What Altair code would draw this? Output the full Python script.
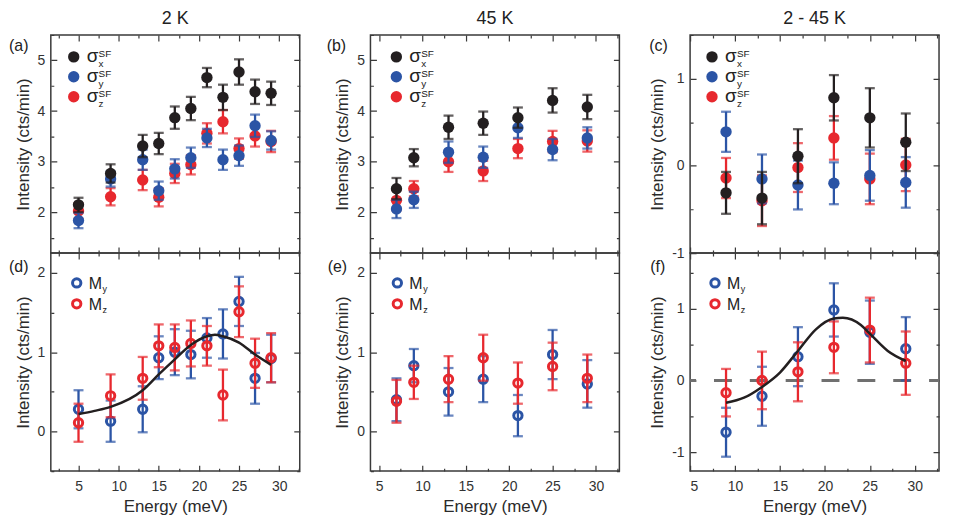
import altair as alt
import pandas as pd

FONT = "Liberation Sans"
BLACK = "#231f20"
BLUE = "#2b54a5"
RED = "#e7282e"
FRAME = "#3a3a3a"
W = 250
H = 219

# ---------------- Panel (a): 2 K ----------------
E_a = [5, 9, 13, 15, 17, 19, 21, 23, 25, 27, 29]
sx_a = [2.15, 2.77, 3.31, 3.36, 3.87, 4.05, 4.66, 4.27, 4.77, 4.38, 4.35]
sx_a_err = [0.14, 0.18, 0.22, 0.21, 0.22, 0.23, 0.19, 0.25, 0.25, 0.24, 0.23]
sy_a = [1.84, 2.66, 3.04, 2.43, 2.86, 3.08, 3.47, 3.04, 3.12, 3.71, 3.42]
sy_a_err = [0.15, 0.15, 0.20, 0.18, 0.19, 0.20, 0.18, 0.20, 0.20, 0.22, 0.18]
sz_a = [2.03, 2.31, 2.64, 2.30, 2.77, 2.94, 3.56, 3.79, 3.26, 3.51, 3.40]
sz_a_err = [0.15, 0.17, 0.20, 0.18, 0.19, 0.19, 0.20, 0.23, 0.20, 0.21, 0.21]

# ---------------- Panel (b): 45 K ----------------
E_b = [7, 9, 13, 17, 21, 25, 29]
sx_b = [2.47, 3.08, 3.68, 3.76, 3.87, 4.21, 4.08]
sx_b_err = [0.21, 0.17, 0.23, 0.23, 0.20, 0.24, 0.24]
sy_b = [2.07, 2.25, 3.19, 3.09, 3.67, 3.24, 3.47]
sy_b_err = [0.18, 0.16, 0.21, 0.21, 0.20, 0.21, 0.21]
sz_b = [2.24, 2.47, 3.00, 2.82, 3.26, 3.40, 3.41]
sz_b_err = [0.20, 0.15, 0.20, 0.20, 0.19, 0.21, 0.21]

# ---------------- Panel (c): 2 - 45 K ----------------
E_c = [9, 13, 17, 21, 25, 29]
sx_c = [-0.31, -0.37, 0.11, 0.78, 0.55, 0.27]
sx_c_err = [0.24, 0.30, 0.31, 0.26, 0.34, 0.33]
sy_c = [0.39, -0.15, -0.22, -0.20, -0.11, -0.19]
sy_c_err = [0.23, 0.28, 0.28, 0.24, 0.29, 0.29]
sz_c = [-0.14, -0.40, -0.02, 0.32, -0.15, 0.01]
sz_c_err = [0.23, 0.29, 0.28, 0.25, 0.29, 0.30]

# ---------------- Panel (d): 2 K, My / Mz ----------------
My_d = [0.28, 0.13, 0.28, 0.93, 1.00, 0.97, 1.18, 1.23, 1.64, 0.67, 0.92]
My_d_err = [0.24, 0.26, 0.29, 0.27, 0.29, 0.30, 0.25, 0.31, 0.31, 0.32, 0.30]
Mz_d = [0.11, 0.45, 0.67, 1.08, 1.06, 1.11, 1.08, 0.46, 1.51, 0.86, 0.93]
Mz_d_err = [0.24, 0.27, 0.27, 0.27, 0.29, 0.29, 0.25, 0.32, 0.32, 0.31, 0.31]
fit_d_E = [5, 7, 9, 13, 15, 17, 19, 21, 22, 23, 25, 27, 29]
fit_d = [0.22, 0.26, 0.31, 0.52, 0.72, 0.91, 1.09, 1.20, 1.22, 1.20, 1.12, 0.97, 0.84]

# ---------------- Panel (e): 45 K, My / Mz ----------------
My_e = [0.40, 0.83, 0.50, 0.66, 0.20, 0.97, 0.60]
My_e_err = [0.27, 0.21, 0.30, 0.29, 0.26, 0.31, 0.30]
Mz_e = [0.38, 0.62, 0.66, 0.93, 0.61, 0.82, 0.67]
Mz_e_err = [0.27, 0.21, 0.29, 0.29, 0.26, 0.30, 0.30]

# ---------------- Panel (f): 2 - 45 K, My / Mz ----------------
My_f = [-0.72, -0.22, 0.33, 0.98, 0.67, 0.44]
My_f_err = [0.34, 0.41, 0.41, 0.37, 0.44, 0.44]
Mz_f = [-0.17, 0.00, 0.12, 0.46, 0.70, 0.24]
Mz_f_err = [0.33, 0.40, 0.41, 0.36, 0.45, 0.44]
fit_f_E = [9, 11, 13, 15, 17, 19, 21, 22, 24, 25, 27, 29]
fit_f = [-0.31, -0.24, -0.09, 0.11, 0.41, 0.71, 0.86, 0.87, 0.77, 0.65, 0.41, 0.27]

# axis ranges / tick values
X_DOM = {"2K": [1.55, 32.57], "45K": [4.0, 32.7], "diff": [5.0, 32.7]}
X_VALS = {"2K": [2.5, 5, 7.5, 10, 12.5, 15, 17.5, 20, 22.5, 25, 27.5, 30, 32.5],
          "45K": [5, 7.5, 10, 12.5, 15, 17.5, 20, 22.5, 25, 27.5, 30, 32.5],
          "diff": [5, 7.5, 10, 12.5, 15, 17.5, 20, 22.5, 25, 27.5, 30, 32.5]}
Y_DOM_TOP = {"2K": [1.2, 5.5], "45K": [1.2, 5.5], "diff": [-1.0, 1.5]}
Y_VALS_TOP = {"2K": [1.5, 2, 2.5, 3, 3.5, 4, 4.5, 5, 5.5],
              "45K": [1.5, 2, 2.5, 3, 3.5, 4, 4.5, 5, 5.5],
              "diff": [-1, -0.5, 0, 0.5, 1, 1.5]}
Y_DOM_BOT = {"2K": [-0.5, 2.25], "45K": [-0.5, 2.25], "diff": [-1.26, 1.77]}
Y_VALS_BOT = {"2K": [-0.5, 0, 0.5, 1, 1.5, 2],
              "45K": [-0.5, 0, 0.5, 1, 1.5, 2],
              "diff": [-1, -0.5, 0, 0.5, 1, 1.5]}

ONE = pd.DataFrame({"k": [0]})


def err_df(E, v, e):
    return pd.DataFrame({"E": E, "I": v,
                         "lo": [a - b for a, b in zip(v, e)],
                         "hi": [a + b for a, b in zip(v, e)]})


def encoders(key, ydom, yvals, bottom):
    xs = alt.Scale(domain=X_DOM[key], nice=False, zero=False)
    ys = alt.Scale(domain=ydom, nice=False, zero=False)
    xgrid = {"condition": {"test": "datum.value % 5 !== 0", "value": [3, H - 6, 3]},
             "value": [6, H - 12, 6]}
    ygrid = {"condition": {"test": "datum.value % 1 !== 0", "value": [3, W - 6, 3]},
             "value": [6, W - 12, 6]}
    if bottom:
        xaxis = alt.Axis(values=X_VALS[key], title="Energy (meV)", grid=True, gridDash=xgrid,
                         titleFontWeight=400,
                         labelExpr="datum.value % 5 === 0 ? '' + datum.value : ''")
    else:
        xaxis = alt.Axis(values=X_VALS[key], title=None, labels=False, grid=True, gridDash=xgrid)
    yaxis = alt.Axis(values=yvals, title="Intensity (cts/min)", grid=True, gridDash=ygrid,
                     titleFontWeight=400,
                     labelExpr="datum.value % 1 === 0 ? '' + datum.value : ''")

    def X(field):
        return alt.X(field, type="quantitative", scale=xs, axis=xaxis)

    def Y(field):
        return alt.Y(field, type="quantitative", scale=ys, axis=yaxis)
    return X, Y, ys, yaxis


def series(df, color, X, Y, filled):
    base = alt.Chart(df)
    out = [
        base.mark_rule(color=color, strokeWidth=2.3).encode(x=X("E"), y=Y("lo"), y2="hi"),
        base.mark_tick(color=color, orient="horizontal", size=10, thickness=2.3).encode(x=X("E"), y=Y("lo")),
        base.mark_tick(color=color, orient="horizontal", size=10, thickness=2.3).encode(x=X("E"), y=Y("hi")),
    ]
    if filled:
        out.append(base.mark_circle(size=130, color=color, opacity=1).encode(x=X("E"), y=Y("I")))
    else:
        out.append(base.mark_point(size=70, color=color, strokeWidth=3, filled=False, opacity=1)
                   .encode(x=X("E"), y=Y("I")))
    return out


def text(t, x, y, size, align="left", baseline="alphabetic", color="#222"):
    return alt.Chart(ONE).mark_text(text=t, font=FONT, fontSize=size, align=align,
                                    baseline=baseline, color=color).encode(
        x=alt.value(x), y=alt.value(y))


def legend_top(x0):
    out = []
    for i, (c, sub) in enumerate([(BLACK, "x"), (BLUE, "y"), (RED, "z")]):
        y = 22 + i * 20
        out.append(alt.Chart(ONE).mark_circle(size=130, color=c, opacity=1)
                   .encode(x=alt.value(x0), y=alt.value(y)))
        out.append(text("σ", x0 + 13, y + 5, 19))
        out.append(text("SF", x0 + 25, y + 0, 10))
        out.append(text(sub, x0 + 25, y + 10, 10))
    return out


def legend_bot(x0):
    out = []
    for i, (c, sub) in enumerate([(BLUE, "y"), (RED, "z")]):
        y = 30 + i * 21
        out.append(alt.Chart(ONE).mark_point(size=70, color=c, strokeWidth=3, filled=False, opacity=1)
                   .encode(x=alt.value(x0), y=alt.value(y)))
        out.append(text("M", x0 + 12, y + 6, 16))
        out.append(text(sub, x0 + 26, y + 9, 9))
    return out


def top_panel(key, title, label, lx, E, sx, sxe, sy, sye, sz, sze, legx):
    X, Y, ys, yaxis = encoders(key, Y_DOM_TOP[key], Y_VALS_TOP[key], False)
    layers = []
    layers += series(err_df(E, sz, sze), RED, X, Y, True)
    layers += series(err_df(E, sy, sye), BLUE, X, Y, True)
    layers += series(err_df(E, sx, sxe), BLACK, X, Y, True)
    layers += legend_top(legx)
    layers.append(text(label, lx, 11, 16, baseline="middle"))
    return alt.layer(*layers).properties(
        width=W, height=H,
        title=alt.TitleParams(title, font=FONT, fontSize=18, fontWeight="normal", color="#222",
                              anchor="middle", offset=7))


def bot_panel(key, label, lx, E, my, mye, mz, mze, fitE=None, fit=None, zero=False, legx=26):
    X, Y, ys, yaxis = encoders(key, Y_DOM_BOT[key], Y_VALS_BOT[key], True)
    layers = []
    if zero:
        layers.append(alt.Chart(ONE).mark_rule(color="#707070", strokeWidth=3,
                                               strokeDash=[18, 18], strokeDashOffset=8)
                      .encode(y=alt.YDatum(0, type="quantitative", scale=ys, axis=yaxis)))
    layers += series(err_df(E, my, mye), BLUE, X, Y, False)
    layers += series(err_df(E, mz, mze), RED, X, Y, False)
    if fitE is not None:
        fdf = pd.DataFrame({"E": fitE, "I": fit})
        layers.append(alt.Chart(fdf).mark_line(color=BLACK, strokeWidth=2.5, interpolate="monotone")
                      .encode(x=X("E"), y=Y("I")))
    layers += legend_bot(legx)
    layers.append(text(label, lx, 14, 16, baseline="middle"))
    return alt.layer(*layers).properties(width=W, height=H)


pa = top_panel("2K", "2 K", "(a)", -42, E_a, sx_a, sx_a_err, sy_a, sy_a_err, sz_a, sz_a_err, 23)
pb = top_panel("45K", "45 K", "(b)", -44, E_b, sx_b, sx_b_err, sy_b, sy_b_err, sz_b, sz_b_err, 26)
pc = top_panel("diff", "2 - 45 K", "(c)", -41, E_c, sx_c, sx_c_err, sy_c, sy_c_err, sz_c, sz_c_err, 22)
pd_ = bot_panel("2K", "(d)", -42, E_a, My_d, My_d_err, Mz_d, Mz_d_err, fit_d_E, fit_d, legx=26)
pe = bot_panel("45K", "(e)", -43, E_b, My_e, My_e_err, Mz_e, Mz_e_err, legx=27)
pf = bot_panel("diff", "(f)", -40, E_c, My_f, My_f_err, Mz_f, Mz_f_err, fit_f_E, fit_f, zero=True, legx=25)

chart = alt.concat(pa, pb, pc, pd_, pe, pf, columns=3,
                   spacing={"row": 0, "column": 71}, bounds="flush").properties(
    padding={"left": 0, "top": 0, "right": 4, "bottom": 4}
).configure_axis(
    domain=False, ticks=False, tickSize=0,
    gridColor=FRAME, gridWidth=1.2, gridOpacity=1,
    labelFont=FONT, labelFontSize=14, labelColor="#333", labelPadding=6,
    titleFont=FONT, titleFontSize=17, titleFontWeight=400, titleColor="#2a2a2a", titlePadding=5,
).configure_axisX(labelPadding=8, titlePadding=6, titleFontWeight=400).configure_axisY(
    titleFontWeight=400
).configure_view(
    stroke=FRAME, strokeWidth=1.5
)

chart.save("out.html", embed_options={"renderer": "svg", "actions": False})
